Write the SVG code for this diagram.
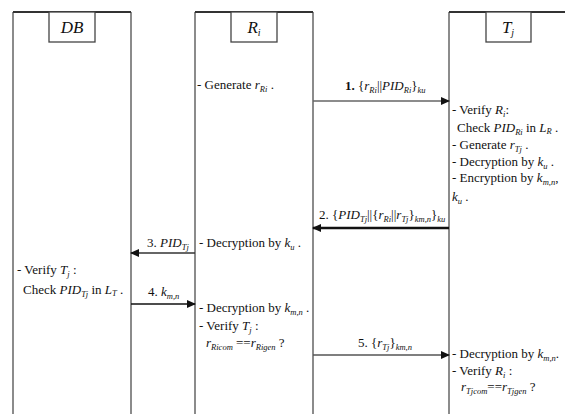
<svg xmlns="http://www.w3.org/2000/svg" width="565" height="414" viewBox="0 0 565 414">
<style>
.side{stroke:#666;stroke-width:1.5;fill:none}
.top{stroke:#333;stroke-width:2;fill:none}
.hdr{stroke:#444;stroke-width:1.3;fill:#fff}
.h{font-family:"Liberation Serif","DejaVu Serif",serif;font-style:italic;font-size:17px;fill:#111}
.t{font-family:"Liberation Serif","DejaVu Serif",serif;font-size:13px;fill:#111}
.i{font-style:italic}
.s{font-size:8.5px;font-style:italic}
.b{font-weight:bold}
</style>
<defs>
<marker id="ah" markerUnits="userSpaceOnUse" markerWidth="9" markerHeight="8" refX="8" refY="4" orient="auto">
<path d="M0,0 L9,4 L0,8 Z" fill="#111"/>
</marker>
</defs>
<rect width="565" height="414" fill="#fff"/>

<g id="DB">
<path class="side" d="M13,420 V12 M131,12 V420"/>
<path class="top" d="M13,12 H131"/>
<rect class="hdr" x="49" y="12" width="46" height="30"/>
<text class="h" x="72" y="33" text-anchor="middle">DB</text>
<text class="t" x="17" y="274">- Verify <tspan class="i">T</tspan><tspan class="s" dy="3">j</tspan><tspan dy="-3"> :</tspan></text>
<text class="t" x="23" y="294">Check <tspan class="i">PID</tspan><tspan class="s" dy="3">Tj</tspan><tspan dy="-3"> in </tspan><tspan class="i">L</tspan><tspan class="s" dy="2">T</tspan><tspan dy="-2"> .</tspan></text>
</g>

<g id="Ri">
<path class="side" d="M195,420 V12 M313,12 V420"/>
<path class="top" d="M195,12 H313"/>
<rect class="hdr" x="231" y="12" width="46" height="30"/>
<text class="h" x="254" y="33" text-anchor="middle">R<tspan font-size="10" dy="3">i</tspan></text>
<text class="t" x="197" y="89">- Generate <tspan class="i">r</tspan><tspan class="s" dy="3">Ri</tspan><tspan dy="-3"> .</tspan></text>
<text class="t" x="199" y="247">- Decryption by <tspan class="i">k</tspan><tspan class="s" dy="3">u</tspan><tspan dy="-3"> .</tspan></text>
<text class="t" x="199" y="312">- Decryption by <tspan class="i">k</tspan><tspan class="s" dy="3">m,n</tspan><tspan dy="-3"> .</tspan></text>
<text class="t" x="199" y="330">- Verify <tspan class="i">T</tspan><tspan class="s" dy="3">j</tspan><tspan dy="-3"> :</tspan></text>
<text class="t" x="206" y="347"><tspan class="i">r</tspan><tspan class="s" dy="3">Ricom</tspan><tspan dy="-3"> ==</tspan><tspan class="i">r</tspan><tspan class="s" dy="3">Rigen</tspan><tspan dy="-3"> ?</tspan></text>
</g>

<g id="Tj">
<path class="side" d="M449,420 V12"/>
<path class="top" d="M449,12 H566"/>
<rect class="hdr" x="486" y="12" width="45" height="30"/>
<text class="h" x="508" y="33" text-anchor="middle">T<tspan font-size="10" dy="3">j</tspan></text>
<text class="t" x="452" y="114">- Verify <tspan class="i">R</tspan><tspan class="s" dy="3">i</tspan><tspan dy="-3">:</tspan></text>
<text class="t" x="457" y="132">Check <tspan class="i">PID</tspan><tspan class="s" dy="3">Ri</tspan><tspan dy="-3"> in </tspan><tspan class="i">L</tspan><tspan class="s" dy="2">R</tspan><tspan dy="-2"> .</tspan></text>
<text class="t" x="452" y="149">- Generate <tspan class="i">r</tspan><tspan class="s" dy="3">Tj</tspan><tspan dy="-3"> .</tspan></text>
<text class="t" x="452" y="166">- Decryption by <tspan class="i">k</tspan><tspan class="s" dy="3">u</tspan><tspan dy="-3"> .</tspan></text>
<text class="t" x="452" y="182">- Encryption by <tspan class="i">k</tspan><tspan class="s" dy="3">m,n</tspan><tspan dy="-3">,</tspan></text>
<text class="t" x="452" y="201"><tspan class="i">k</tspan><tspan class="s" dy="3">u</tspan><tspan dy="-3"> .</tspan></text>
<text class="t" x="452" y="358">- Decryption by <tspan class="i">k</tspan><tspan class="s" dy="3">m,n</tspan><tspan dy="-3">.</tspan></text>
<text class="t" x="452" y="375">- Verify <tspan class="i">R</tspan><tspan class="s" dy="3">i</tspan><tspan dy="-3"> :</tspan></text>
<text class="t" x="461" y="391"><tspan class="i">r</tspan><tspan class="s" dy="3">Tjcom</tspan><tspan dy="-3">==</tspan><tspan class="i">r</tspan><tspan class="s" dy="3">Tjgen</tspan><tspan dy="-3"> ?</tspan></text>
</g>

<g id="connectors">
<line x1="313" y1="101" x2="449" y2="101" stroke="#666" stroke-width="1.6" marker-end="url(#ah)"/>
<line x1="449" y1="228" x2="313" y2="228" stroke="#111" stroke-width="2.4" marker-end="url(#ah)"/>
<line x1="195" y1="253" x2="131" y2="253" stroke="#333" stroke-width="1.6" marker-end="url(#ah)"/>
<line x1="131" y1="304" x2="195" y2="304" stroke="#111" stroke-width="1.4" marker-end="url(#ah)"/>
<line x1="313" y1="355" x2="449" y2="355" stroke="#555" stroke-width="1.6" marker-end="url(#ah)"/>
<text class="t" x="345" y="90"><tspan class="b">1.</tspan> {<tspan class="i">r</tspan><tspan class="s" dy="3">Ri</tspan><tspan dy="-3">||</tspan><tspan class="i">PID</tspan><tspan class="s" dy="3">Ri</tspan><tspan dy="-3">}</tspan><tspan class="s" dy="3">ku</tspan></text>
<text class="t" x="319" y="219">2. {<tspan class="i">PID</tspan><tspan class="s" dy="3">Tj</tspan><tspan dy="-3">||{</tspan><tspan class="i">r</tspan><tspan class="s" dy="3">Ri</tspan><tspan dy="-3">||</tspan><tspan class="i">r</tspan><tspan class="s" dy="3">Tj</tspan><tspan dy="-3">}</tspan><tspan class="s" dy="3">km,n</tspan><tspan dy="-3">}</tspan><tspan class="s" dy="3">ku</tspan></text>
<text class="t" x="147" y="247">3. <tspan class="i">PID</tspan><tspan class="s" dy="3">Tj</tspan></text>
<text class="t" x="148" y="296">4. <tspan class="i">k</tspan><tspan class="s" dy="3">m,n</tspan></text>
<text class="t" x="358" y="347">5. {<tspan class="i">r</tspan><tspan class="s" dy="3">Tj</tspan><tspan dy="-3">}</tspan><tspan class="s" dy="3">km,n</tspan></text>
</g>
</svg>
